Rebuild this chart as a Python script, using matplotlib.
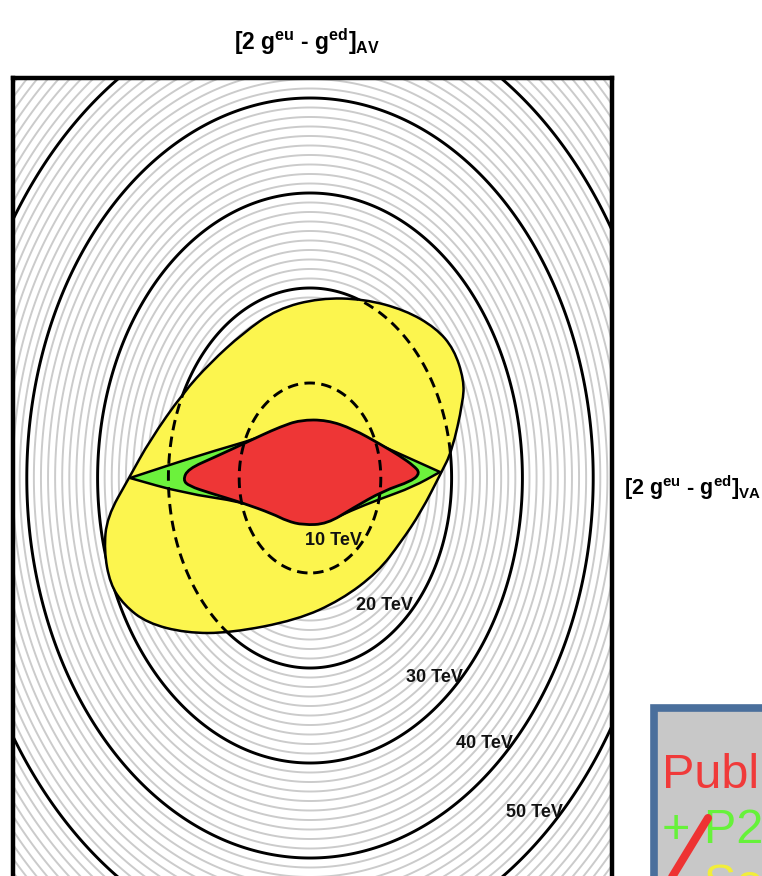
import numpy as np
import matplotlib
matplotlib.use("Agg")
import matplotlib.pyplot as plt
from matplotlib import font_manager
from matplotlib.patches import PathPatch, Rectangle
from matplotlib.path import Path
from matplotlib.lines import Line2D

# ---------------------------------------------------------------- data
# mass-scale contours (TeV): thin grey every TeV, heavy black every 10 TeV
fine_levels = [lv for lv in range(1, 61) if lv % 10]
major_levels = [20, 30, 40, 50]
dashed_levels = [10, 20]

# coupling reach per TeV of mass scale along each combination
reach_va = 0.00708
reach_av = 0.0095

# contour labels: text, right edge x, baseline y
label_text = ["10 TeV", "20 TeV", "30 TeV", "40 TeV", "50 TeV"]
label_x = [0.052, 0.103, 0.153, 0.203, 0.253]
label_y = [-0.067, -0.132, -0.204, -0.270, -0.339]

# allowed regions ([2g^eu - g^ed]_VA, [2g^eu - g^ed]_AV)
yellow_va = [-0.181, -0.160, -0.127, -0.100, -0.067, -0.033, 0.010, 0.054,
             0.095, 0.126, 0.144, 0.154, 0.153, 0.142, 0.131, 0.111, 0.091,
             0.068, 0.031, -0.013, -0.080, -0.124, -0.163, -0.186, -0.200,
             -0.206, -0.203]
yellow_av = [0.000, 0.038, 0.085, 0.115, 0.145, 0.169, 0.180, 0.179,
             0.168, 0.150, 0.129, 0.098, 0.076, 0.027, 0.005, -0.034, -0.064,
             -0.094, -0.122, -0.142, -0.155, -0.155, -0.145, -0.127, -0.106,
             -0.072, -0.039]

green_va = [-0.180, -0.180, -0.110, -0.048, -0.030, -0.010, 0.017, 0.043,
            0.070, 0.090, 0.130, 0.130, 0.103, 0.070, 0.040, 0.017, -0.007,
            -0.037, -0.067, -0.127]
green_av = [0.000, 0.000, 0.023, 0.041, 0.050, 0.056, 0.056, 0.048,
            0.033, 0.024, 0.006, 0.006, -0.009, -0.021, -0.033, -0.044,
            -0.045, -0.035, -0.024, -0.015]

red_va = [-0.127, -0.122, -0.095, -0.067, -0.048, -0.030, -0.010, 0.017,
          0.043, 0.070, 0.090, 0.104, 0.110, 0.102, 0.073, 0.043, 0.017,
          -0.007, -0.023, -0.037, -0.067, -0.100, -0.121]
red_av = [-0.002, 0.009, 0.021, 0.034, 0.043, 0.051, 0.058, 0.058,
          0.049, 0.034, 0.022, 0.012, 0.005, -0.003, -0.013, -0.030, -0.046,
          -0.047, -0.043, -0.036, -0.025, -0.015, -0.008]

legend_lines = ["Published", "+ P2", "+ SoLID"]
legend_colors = ["#f03a3a", "#66f23a", "#f2ee3a"]

# ---------------------------------------------------------------- fonts
names = {f.name for f in font_manager.fontManager.ttflist}
if "Liberation Sans Narrow" in names:
    cond_family, lbl_size, top_size, side_size = "Liberation Sans Narrow", 15.0, 19.0, 18.0
else:
    cond_family, lbl_size, top_size, side_size = "Liberation Sans", 13.0, 16.5, 15.5

plt.rcParams["mathtext.fontset"] = "custom"
plt.rcParams["mathtext.rm"] = cond_family + ":bold"
plt.rcParams["mathtext.bf"] = cond_family + ":bold"
plt.rcParams["mathtext.default"] = "bf"


def region_path(xv, yv):
    """Closed outline with quadratic Bezier segments through edge midpoints;
    a repeated vertex gives a sharp corner."""
    p = np.column_stack([xv, yv])
    m = 0.5 * (p + np.roll(p, -1, axis=0))
    verts = [m[-1]]
    codes = [Path.MOVETO]
    for i in range(len(p)):
        verts += [p[i], m[i]]
        codes += [Path.CURVE3, Path.CURVE3]
    verts.append(m[-1])
    codes.append(Path.CLOSEPOLY)
    return Path(verts, codes)


# ---------------------------------------------------------------- figure
W, H = 762, 876
fig = plt.figure(figsize=(W / 100, H / 100), dpi=100)
ax = fig.add_axes([13 / W, 1 - 960 / H, 599 / W, 882 / H])
ax.set_xlim(-0.297, 0.302)
ax.set_ylim(-0.482, 0.400)
ax.set_xticks([])
ax.set_yticks([])
for s in ax.spines.values():
    s.set_linewidth(3.2)
    s.set_color("black")

xs = np.linspace(-0.32, 0.32, 900)
ys = np.linspace(-0.52, 0.42, 1100)
X, Y = np.meshgrid(xs, ys)
scale = np.hypot(X / reach_va, Y / reach_av)

ax.contour(X, Y, scale, levels=fine_levels, colors="#cbcbcb",
           linewidths=1.4, zorder=1)
ax.contour(X, Y, scale, levels=major_levels, colors="black",
           linewidths=2.1, zorder=2)

yellow = PathPatch(region_path(yellow_va, yellow_av), facecolor="#fcf54e",
                   edgecolor="black", linewidth=1.8, zorder=3)
ax.add_patch(yellow)
green = PathPatch(region_path(green_va, green_av), facecolor="#6cf23c",
                  edgecolor="black", linewidth=1.8, zorder=4)
ax.add_patch(green)
red = PathPatch(region_path(red_va, red_av), facecolor="#ee3636",
                edgecolor="black", linewidth=2.0, zorder=5)
ax.add_patch(red)

dash = ax.contour(X, Y, scale, levels=dashed_levels, colors="black",
                  linewidths=2.1, linestyles=[(0, (3.6, 2.2))], zorder=6)
dash.set_clip_path(yellow)

for t, x, y in zip(label_text, label_x, label_y):
    ax.text(x, y, t, ha="right", va="baseline", fontsize=lbl_size,
            fontweight="bold", family=cond_family, color="#111111", zorder=7)

# axis titles
fig.text(307 / W, 1 - 50 / H, r"[2 g$^{eu}$ - g$^{ed}$]$_{AV}$",
         ha="center", va="baseline", fontsize=top_size, fontweight="bold",
         family=cond_family)
fig.text(624 / W, 1 - 495 / H, r"[2 g$^{eu}$ - g$^{ed}$]$_{VA}$",
         ha="left", va="baseline", fontsize=side_size, fontweight="bold",
         family=cond_family)

# legend panel in the lower right
fig.add_artist(Rectangle((654 / W, -0.2), 0.4, 0.2 + 1 - 708 / H,
                         transform=fig.transFigure, facecolor="#c8c8c8",
                         edgecolor="#4a6f9c", linewidth=5.5, zorder=5))
for i, (t, c) in enumerate(zip(legend_lines, legend_colors)):
    fig.text(662 / W, 1 - (788 + 55 * i) / H, t, color=c, fontsize=35,
             family="Liberation Sans", ha="left", va="baseline", zorder=6)
fig.add_artist(Line2D([708 / W, 658 / W], [1 - 818 / H, 1 - 900 / H],
                      transform=fig.transFigure, color="#ee3333",
                      linewidth=5.8, solid_capstyle="round", zorder=7))

fig.savefig("out.png", dpi=100)
